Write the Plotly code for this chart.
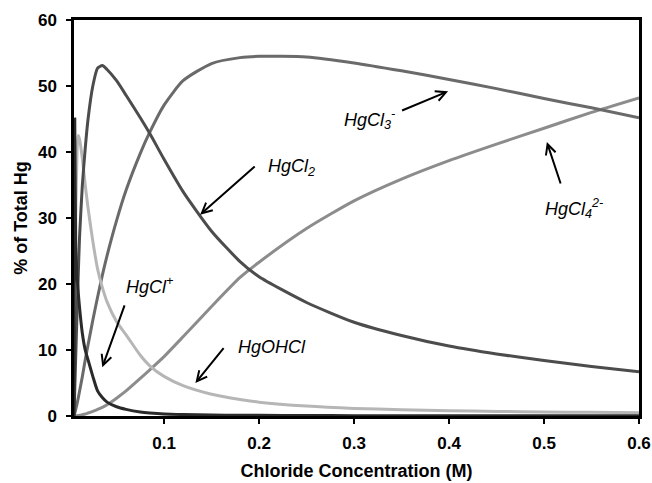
import plotly.graph_objects as go

# Chloride concentration (M) at which each species fraction is given
chloride = [0.0052, 0.006, 0.007, 0.0085, 0.0095, 0.011, 0.014, 0.017, 0.02, 0.025,
            0.03, 0.035, 0.04, 0.05, 0.06, 0.075, 0.085, 0.1, 0.12, 0.15,
            0.18, 0.2, 0.25, 0.3, 0.35, 0.4, 0.45, 0.5, 0.55, 0.6]

# Percent of total Hg for each species
hgcl_plus = [0, 45, 26, 21, 19, 16.5, 12.5, 10, 8.5, 6,
             3.8, 2.8, 2.1, 1.4, 1.0, 0.6, 0.45, 0.3, 0.22, 0.15,
             0.11, 0.1, 0.07, 0.05, 0.04, 0.03, 0.03, 0.02, 0.02, 0.02]
hgcl2 = [0, 4, 9, 16, 20.6, 27, 35, 40.5, 45, 50,
         52.7, 53.1, 52.5, 50.8, 48.6, 45.2, 42.8, 38.9, 34.0, 28.0,
         23.4, 21.1, 17.2, 14.2, 12.2, 10.6, 9.4, 8.4, 7.5, 6.7]
hgcl3_minus = [0, 0.4, 1.0, 1.9, 2.6, 3.7, 6.0, 8.5, 10.8, 14.5,
               18, 21.3, 24.3, 29.6, 34.2, 39.8, 43.0, 47.1, 50.8, 53.4,
               54.3, 54.5, 54.4, 53.5, 52.3, 51, 49.6, 48.1, 46.7, 45.2]
hgcl4_2minus = [0, 0, 0.02, 0.05, 0.08, 0.1, 0.2, 0.3, 0.45, 0.7,
                1.0, 1.3, 1.7, 2.7, 3.8, 5.7, 7.0, 9.0, 12.0, 16.6,
                21.0, 23.3, 28.4, 32.6, 35.9, 38.7, 41.2, 43.6, 46, 48.2]
hgohcl = [0, 15, 30, 40.5, 42.5, 42, 39, 35, 31.5, 26.5,
          22.3, 19.5, 17.3, 14.3, 12.3, 9.2, 7.6, 6.0, 4.6, 3.3,
          2.5, 2.1, 1.5, 1.15, 0.95, 0.8, 0.7, 0.6, 0.55, 0.5]

x_ticks = [0.1, 0.2, 0.3, 0.4, 0.5, 0.6]
x_tick_labels = ["0.1", "0.2", "0.3", "0.4", "0.5", "0.6"]
y_ticks = [0, 10, 20, 30, 40, 50, 60]

FONT = "Liberation Sans"

series = [
    (hgcl4_2minus, "#8c8c8c"),
    (hgcl3_minus, "#6a6a6a"),
    (hgohcl, "#b6b6b6"),
    (hgcl2, "#4c4c4c"),
    (hgcl_plus, "#2a2a2a"),
]

fig = go.Figure()
for values, color in series:
    fig.add_trace(go.Scatter(x=chloride, y=values, mode="lines",
                             line=dict(color=color, width=3, shape="spline",
                                       smoothing=0.6),
                             showlegend=False, hoverinfo="skip"))

# Species labels: (text, text x, text y, arrow tail x, tail y, arrow tip x, tip y)
labels = [
    ("<i>HgCl<sub>3</sub><sup>-</sup></i>", 0.316, 45.0, 0.349, 46.2, 0.399, 49.2),
    ("<i>HgCl<sub>2</sub></i>", 0.234, 37.6, 0.197, 38.0, 0.138, 30.5),
    ("<i>HgCl<sub>4</sub><sup>2-</sup></i>", 0.532, 31.5, 0.518, 35.0, 0.503, 41.5),
    ("<i>HgCl<sup>+</sup></i>", 0.085, 19.8, 0.059, 17.0, 0.035, 7.4),
    ("<i>HgOHCl</i>", 0.214, 10.5, 0.164, 10.5, 0.133, 5.0),
]
for text, tx, ty, ax, ay, hx, hy in labels:
    fig.add_annotation(x=tx, y=ty, text=text, showarrow=False,
                       font=dict(family=FONT, size=18, color="black"))
    fig.add_annotation(x=hx, y=hy, ax=ax, ay=ay, xref="x", yref="y",
                       axref="x", ayref="y", text="", showarrow=True,
                       arrowhead=5, arrowsize=1, arrowwidth=2, arrowcolor="black")

axis_common = dict(
    showline=True, linecolor="black", linewidth=2.5, mirror=True,
    ticks="outside", ticklen=5, tickwidth=2, tickcolor="black",
    showgrid=False, zeroline=False, automargin=False,
    tickfont=dict(family=FONT, size=17, color="black", weight="bold"),
)
title_font = dict(family=FONT, size=18, color="black", weight="bold")

fig.update_layout(
    width=652, height=483,
    margin=dict(l=74, r=13, t=20, b=67),
    paper_bgcolor="white", plot_bgcolor="white",
    xaxis=dict(range=[0.0052, 0.6], tickvals=x_ticks, ticktext=x_tick_labels,
               ticklabelstandoff=5,
               title=dict(text="Chloride Concentration (M)", standoff=13,
                          font=title_font),
               **axis_common),
    yaxis=dict(range=[0, 60], tickvals=y_ticks, ticklabelstandoff=6,
               title=dict(text="% of Total Hg", standoff=6, font=title_font),
               **axis_common),
)

fig.write_html("out.html")
